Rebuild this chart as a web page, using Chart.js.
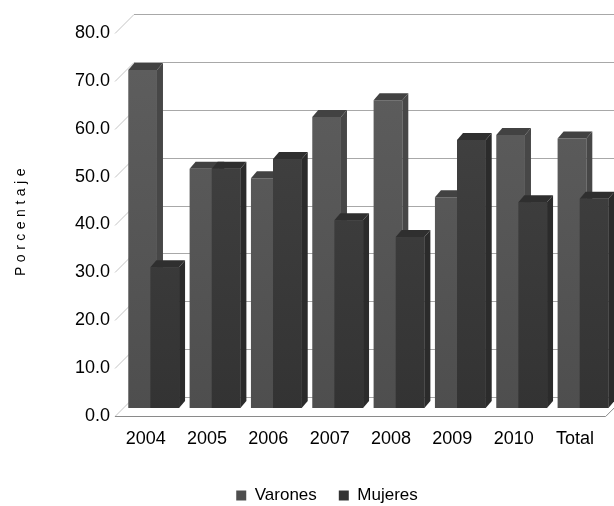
<!DOCTYPE html>
<html>
<head>
<meta charset="utf-8">
<script src="https://cdn.jsdelivr.net/npm/chart.js@4.4.1/dist/chart.umd.min.js"></script>
<style>
  html, body { margin: 0; padding: 0; background: #fff; }
  #wrap { width: 614px; height: 506px; }
</style>
</head>
<body>
<div id="wrap"><canvas id="chart"></canvas></div>
<script>
// data
const years = ['2004', '2005', '2006', '2007', '2008', '2009', '2010', 'Total'];
const varones = [70.6, 50.0, 48.0, 60.8, 64.3, 44.0, 57.0, 56.3];
const mujeres = [29.4, 50.0, 52.0, 39.2, 35.7, 56.0, 43.0, 43.7];
const yMin = 0, yMax = 80, yStep = 10;

const FONT = "'Liberation Sans', Arial, sans-serif";
const DEPTH = 19;   // depth of the fake 3d box
const PLANE = 8;    // bars sit this far behind the front edge
const BAR_DX = 6, BAR_DY = 7;

const shades = [
    { top: '#5f5f5f', bottom: '#4e4e4e', cap: '#424242', side: '#474747' },
    { top: '#454545', bottom: '#333333', cap: '#2f2f2f', side: '#2b2b2b' }
];

function fillFor(chart, s) {
    const a = chart.chartArea;
    if (!a) return s.top;
    const g = chart.ctx.createLinearGradient(0, a.top, 0, a.bottom);
    g.addColorStop(0, s.top);
    g.addColorStop(1, s.bottom);
    return g;
}

function poly(ctx, pts) {
    ctx.beginPath();
    ctx.moveTo(pts[0][0], pts[0][1]);
    for (let i = 1; i < pts.length; i++) ctx.lineTo(pts[i][0], pts[i][1]);
    ctx.closePath();
    ctx.fill();
}

// side and top faces of a bar, optionally repainting the front so it covers its neighbour
function faces(ctx, bar, s, redrawFront) {
    const l = bar.x - bar.width / 2, r = bar.x + bar.width / 2;
    const t = bar.y, b = bar.base;
    if (redrawFront) {
        ctx.fillStyle = bar.options.backgroundColor;
        ctx.fillRect(l, t, r - l, b - t);
    }
    ctx.fillStyle = s.side;
    poly(ctx, [[r, t], [r + BAR_DX, t - BAR_DY], [r + BAR_DX, b - BAR_DY], [r, b]]);
    ctx.fillStyle = s.cap;
    poly(ctx, [[l, t], [l + BAR_DX, t - BAR_DY], [r + BAR_DX, t - BAR_DY], [r, t]]);
}

const fake3d = {
    id: 'fake3d',
    beforeDatasetsDraw(chart) {
        const { ctx, chartArea: a, scales: { y } } = chart;
        const back = DEPTH - PLANE;
        ctx.save();
        ctx.lineWidth = 1;
        y.ticks.forEach(t => {
            const py = Math.round(y.getPixelForValue(t.value)) + 0.5;
            ctx.strokeStyle = '#c4c4c4';
            ctx.beginPath();
            ctx.moveTo(a.left - PLANE, py + PLANE);
            ctx.lineTo(a.left + back, py - back);
            ctx.stroke();
            ctx.strokeStyle = '#a8a8a8';
            ctx.beginPath();
            ctx.moveTo(a.left + back, py - back);
            ctx.lineTo(chart.width, py - back);
            ctx.stroke();
        });
        // front edge of the floor
        const fy = Math.round(a.bottom) + PLANE + 0.5;
        ctx.strokeStyle = '#8a8a8a';
        ctx.beginPath();
        ctx.moveTo(a.left - PLANE, fy);
        ctx.lineTo(a.right - PLANE, fy);
        ctx.lineTo(a.right + back, fy - DEPTH);
        ctx.stroke();
        ctx.restore();
    },
    afterDatasetsDraw(chart) {
        const { ctx } = chart;
        const mv = chart.getDatasetMeta(0).data;
        const mm = chart.getDatasetMeta(1).data;
        ctx.save();
        years.forEach((_, i) => {
            faces(ctx, mv[i], shades[0], false);
            faces(ctx, mm[i], shades[1], true);
        });
        ctx.restore();
    },
    afterDraw(chart) {
        const { ctx } = chart;
        ctx.save();
        ctx.translate(21, 220);
        ctx.rotate(-Math.PI / 2);
        ctx.font = '14px ' + FONT;
        ctx.letterSpacing = '4.5px';
        ctx.fillStyle = '#000';
        ctx.textAlign = 'center';
        ctx.textBaseline = 'middle';
        ctx.fillText('Porcentaje', 0, 0);
        ctx.restore();
    }
};

const ctx = document.getElementById('chart').getContext('2d');
const chart = new Chart(ctx, {
    type: 'bar',
    data: {
        labels: years,
        datasets: [{
            label: 'Varones',
            data: varones,
            backgroundColor: c => fillFor(c.chart, shades[0]),
            borderWidth: 0
        }, {
            label: 'Mujeres',
            data: mujeres,
            backgroundColor: c => fillFor(c.chart, shades[1]),
            borderWidth: 0
        }]
    },
    options: {
        responsive: true,
        maintainAspectRatio: false,
        animation: false,
        devicePixelRatio: 1,
        categoryPercentage: 0.72,
        barPercentage: 1.3,
        layout: { padding: { left: 34, right: -6, top: 25, bottom: -8 } },
        plugins: {
            tooltip: { enabled: false },
            legend: {
                position: 'bottom',
                labels: {
                    color: '#000',
                    font: { family: FONT, size: 17 },
                    boxWidth: 10,
                    boxHeight: 10,
                    padding: 22
                }
            }
        },
        scales: {
            x: {
                grid: { display: false },
                border: { display: false },
                ticks: {
                    color: '#000',
                    font: { family: FONT, size: 18 },
                    padding: 12,
                    labelOffset: -8,
                    maxRotation: 0
                },
                afterFit(scale) { scale.height = 57; }
            },
            y: {
                min: yMin,
                max: yMax,
                grid: { display: false },
                border: { display: false },
                ticks: {
                    stepSize: yStep,
                    color: '#000',
                    font: { family: FONT, size: 18 },
                    padding: 5,
                    labelOffset: 8,
                    callback: v => v.toFixed(1)
                },
                afterFit(scale) { scale.width = 89; }
            }
        }
    },
    plugins: [fake3d]
});
</script>
</body>
</html>
